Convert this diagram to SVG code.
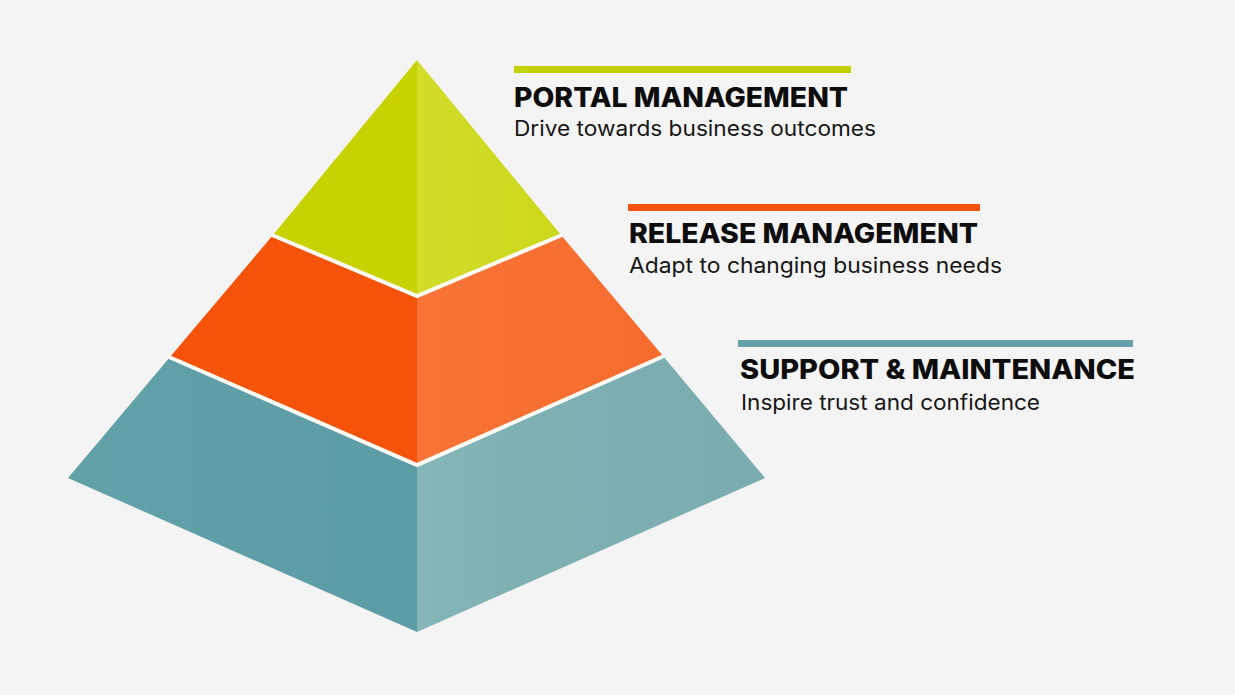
<svg xmlns="http://www.w3.org/2000/svg" width="1235" height="695" viewBox="0 0 1235 695">
  <style>
    .title { font-family: Inter, "Open Sans", "Liberation Sans", sans-serif; font-weight: 800; font-size: 26.5px; fill: #0d0d0d; }
    .sub { font-family: Inter, "Open Sans", "Liberation Sans", sans-serif; font-weight: 400; font-size: 21px; fill: #161616; }
    .sep { fill: none; stroke: #fdfdf6; stroke-width: 4; stroke-linejoin: miter; }
  </style>
  <defs>
    <linearGradient id="gTopR" x1="0" y1="0" x2="1" y2="0">
      <stop offset="0" stop-color="#d3dc2a"/>
      <stop offset="1" stop-color="#cdd71a"/>
    </linearGradient>
    <linearGradient id="gMidR" x1="0" y1="0" x2="1" y2="0">
      <stop offset="0" stop-color="#f97436"/>
      <stop offset="1" stop-color="#f66c2e"/>
    </linearGradient>
    <linearGradient id="gBotR" x1="0" y1="0" x2="1" y2="0">
      <stop offset="0" stop-color="#86b6b9"/>
      <stop offset="0.3" stop-color="#7eb0b4"/>
      <stop offset="1" stop-color="#79abb0"/>
    </linearGradient>
    <linearGradient id="gBotL" x1="0" y1="0" x2="1" y2="0">
      <stop offset="0" stop-color="#62a1a8"/>
      <stop offset="1" stop-color="#5c9ca5"/>
    </linearGradient>
  </defs>
  <rect x="0" y="0" width="1235" height="695" fill="#f4f4f4"/>

  <g id="tier-portal">
    <polygon points="417,60 273,235 417,296" fill="#c8d200"/>
    <polygon points="417,60 561,235 417,296" fill="url(#gTopR)"/>
  </g>
  <g id="tier-release">
    <polygon points="273,235 170,357 417,465 417,296" fill="#f5520a"/>
    <polygon points="417,296 417,465 663,356 561,235" fill="url(#gMidR)"/>
  </g>
  <g id="tier-support">
    <polygon points="170,357 68,478 417,632 417,465" fill="url(#gBotL)"/>
    <polygon points="417,465 417,632 765,478 663,356" fill="url(#gBotR)"/>
  </g>
  <g id="connectors">
    <polyline class="sep" points="272,235 417,296 562,235"/>
    <polyline class="sep" points="169,357 417,465 664,356"/>
  </g>

  <g id="label-portal">
    <rect x="514" y="66" width="337" height="7" fill="#c5d000"/>
    <text class="title" x="514" y="107" textLength="334" lengthAdjust="spacingAndGlyphs">PORTAL MANAGEMENT</text>
    <text class="sub" x="514" y="136" textLength="362" lengthAdjust="spacingAndGlyphs">Drive towards business outcomes</text>
  </g>
  <g id="label-release">
    <rect x="628" y="204" width="352" height="7" fill="#f5520c"/>
    <text class="title" x="629" y="243" textLength="349" lengthAdjust="spacingAndGlyphs">RELEASE MANAGEMENT</text>
    <text class="sub" x="629" y="273" textLength="373" lengthAdjust="spacingAndGlyphs">Adapt to changing business needs</text>
  </g>
  <g id="label-support">
    <rect x="738" y="340" width="395" height="7" fill="#66a2a9"/>
    <text class="title" x="740" y="379" textLength="395" lengthAdjust="spacingAndGlyphs">SUPPORT &amp; MAINTENANCE</text>
    <text class="sub" x="741" y="410" textLength="299" lengthAdjust="spacingAndGlyphs">Inspire trust and confidence</text>
  </g>
</svg>
